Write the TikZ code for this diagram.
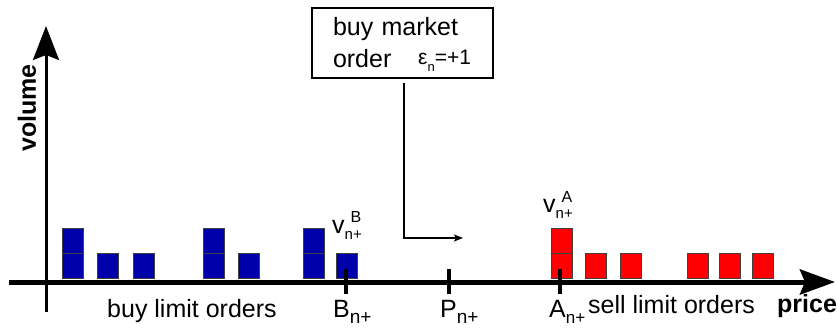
\documentclass[tikz,border=0pt]{standalone}
\usepackage{fontspec}
\setmainfont{Liberation Sans}
\usetikzlibrary{positioning,arrows.meta,calc}
\definecolor{buyblue}{HTML}{0000AA}
\definecolor{sellred}{HTML}{FF0000}
\newcommand\lbl{\fontsize{25}{32}\selectfont}
\newcommand\lo[2]{\raisebox{-0.24em}{\fontsize{#1}{#1}\selectfont #2}}
\newcommand\lohi[2]{\rlap{\raisebox{0.42em}{\hspace{0.24em}\fontsize{16}{16}\selectfont #2}}\lo{15}{#1}}
\begin{document}
\begin{tikzpicture}[x=1pt,y=1pt,font=\lbl,
  ordbox/.style={draw=black!75,line width=0.8pt,minimum width=21,minimum height=25,inner sep=0,anchor=south west},
  buybox/.style={ordbox,fill=buyblue},
  sellbox/.style={ordbox,fill=sellred},
  tick/.style={line width=4pt},
  txt/.style={inner sep=0,anchor=base west}]
  \useasboundingbox (0,0) rectangle (838,327);
  % axes
  \draw[line width=5pt,-{Stealth[length=35pt,width=25pt,inset=5pt]}] (9,45) -- (835,45);
  \draw[line width=3pt,-{Stealth[length=34pt,width=26pt,inset=5pt]}] (46,15) -- (46,301);
  \node[rotate=90,font=\lbl\bfseries] (vol) at (27,219) {volume};
  \node[txt,font=\lbl\bfseries] (price) at (777,15) {price};
  % limit orders
  \foreach \x/\n in {62/2,97/1,133/1,203/2,238/1,303/2,336/1}
    \foreach \k in {1,...,\n}
      \node[buybox] (b\x-\k) at (\x,{48+25*(\k-1)}) {};
  \foreach \x/\n in {551/2,585/1,620/1,687/1,719/1,752/1}
    \foreach \k in {1,...,\n}
      \node[sellbox] (s\x-\k) at (\x,{48+25*(\k-1)}) {};
  % best prices
  \coordinate (B) at (346,45);
  \coordinate (P) at (449,45);
  \coordinate (A) at (560,45);
  \foreach \c in {B,P,A}
    \draw[tick] ([yshift=13]\c) -- ([yshift=-12]\c);
  \node[txt] (lb) at (333,10) {B\lo{19}{n+}};
  \node[txt] (lp) at (440,10) {P\lo{19}{n+}};
  \node[txt] (la) at (549,10) {A\lo{17}{n+}};
  \node[txt] (buy) at (107,10) {buy limit orders};
  \node[txt] (sell) at (588,14) {sell limit orders};
  \node[txt] (vb) at (332,94) {v\lohi{n+}{B}};
  \node[txt] (va) at (543,114) {v\lohi{n+}{A}};
  % market order
  \node[draw,line width=2pt,minimum width=181,minimum height=70,text width=139,
    inner xsep=21,align=left] (mkt) at (402.5,284) {buy market\\order};
  \node[txt,font=\fontsize{21}{21}\selectfont] (eps) at (418,262)
    {ε\raisebox{-0.3em}{\fontsize{13}{13}\selectfont n}=+1};
  \coordinate (hit) at (463,89);
  \draw[line width=1.3pt,-{Stealth[length=9pt,width=7pt,inset=2pt]}]
    ([xshift=1.5pt,yshift=-4pt]mkt.south) |- (hit);
\end{tikzpicture}
\end{document}
